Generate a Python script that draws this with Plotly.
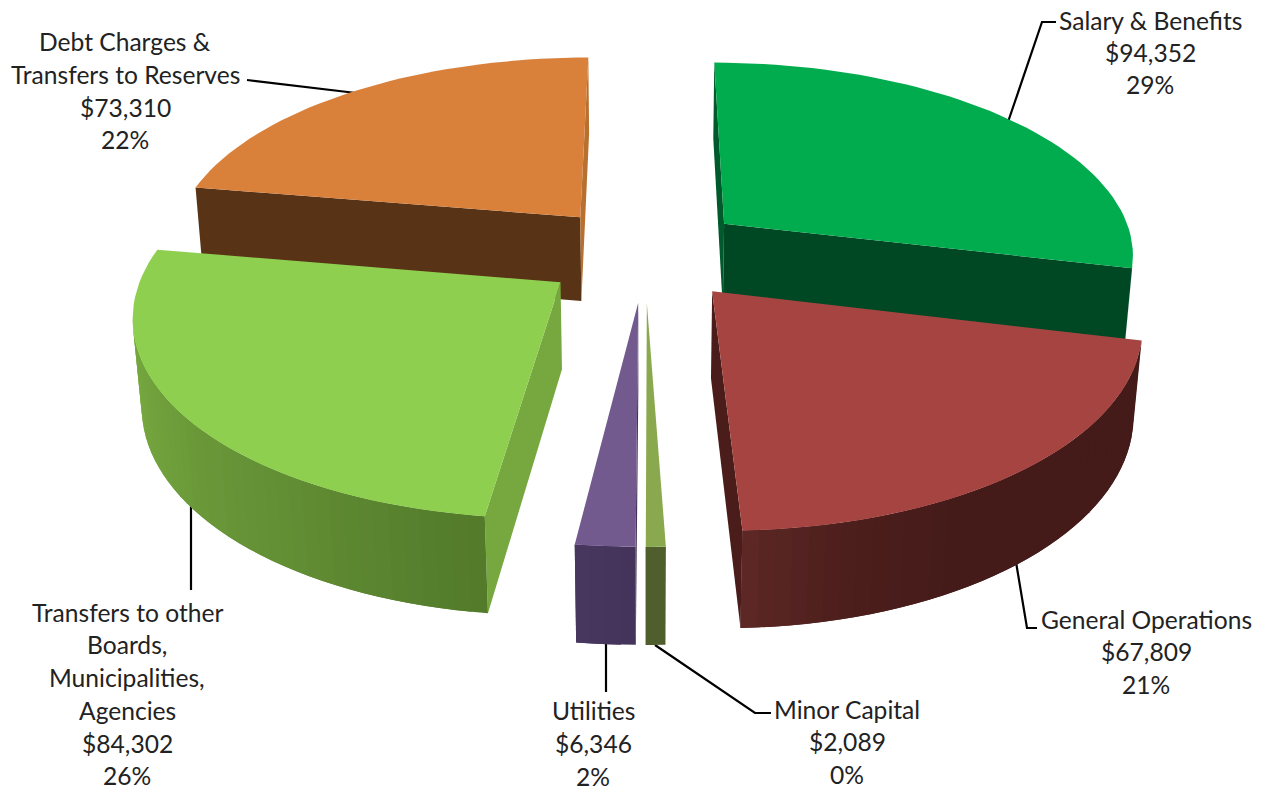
import math
import plotly.graph_objects as go

# Budget figures, in the order the slices run clockwise from twelve o'clock
categories = ["Salary & Benefits", "General Operations", "Minor Capital",
              "Utilities", "Transfers to other Boards, Municipalities, Agencies",
              "Debt Charges & Transfers to Reserves"]
amounts = [94352, 67809, 2089, 6346, 84302, 73310]
percent_labels = ["29%", "21%", "0%", "2%", "26%", "22%"]
amount_labels = ["$94,352", "$67,809", "$2,089", "$6,346", "$84,302", "$73,310"]
name_lines = [["Salary & Benefits"], ["General Operations"], ["Minor Capital"],
              ["Utilities"], ["Transfers to other", "Boards,", "Municipalities,", "Agencies"],
              ["Debt Charges &", "Transfers to Reserves"]]

# Slice colours: top face, the two flat cut faces, and the rim shading (angle in degrees, colour)
top_colors = ["#00AC4E", "#A64441", "#8AA84E", "#725A8E", "#8FCF50", "#D9803B"]
start_face_colors = ["#005A2B", "#4A1C1A", "#4F5E2C", "#43335A", "#77A83F", "#583316"]
end_face_colors = ["#004823", "#4A1C1A", "#4F5E2C", "#43335A", "#77A83F", "#B8702F"]
rim_ramps = [
    [(0, "#00592B"), (104, "#00592B")],
    [(104, "#441B19"), (150, "#441B19"), (166, "#4C1E1C"), (178, "#5E2825")],
    [(178, "#4F5E2C"), (181, "#4F5E2C")],
    [(180, "#43335A"), (188, "#48375F")],
    [(187, "#527A2A"), (215, "#638F35"), (245, "#72A23D"), (265, "#7AAE41"), (280, "#7AAE41")],
    [(279, "#6B3F1B"), (360, "#6B3F1B")],
]

# Perspective camera for the tilted disc
CX, CY = 645.0, 253.0
SCALE_X, SCALE_Y = 412.0, 192.5
FORESHORTEN = 0.145
EXPLODE = 0.25
DEPTH_DROP, DEPTH_CONVERGE = 87.0, 0.017
STEP_DEG = 2.0

FONT = "Lato"
FONT_SIZE = 24.6
TEXT_COLOR = "#222222"

# Label placement: centre x and the middle y of each line
label_x = [1150, 1146, 847, 593, 127, 125]
label_y = [[20, 52, 84], [619, 651, 684], [709, 741, 774], [710, 743, 776],
           [612, 644, 677, 710, 743, 775], [41, 74, 107, 139]]
leader_paths = [
    [(1008, 122), (1042, 22), (1056, 22)],
    [(1016, 562), (1027, 628), (1037, 628)],
    [(655, 645), (755, 713), (771, 713)],
    [(606, 640), (606, 692)],
    [(191, 500), (191, 590)],
    [(356, 93), (247, 80)],
]


def project(u, v, z=0.0):
    """Map a point on the disc (z=0 top face, z=1 bottom face) to page pixels."""
    w = 1 + FORESHORTEN * v
    x = SCALE_X * u / w
    y = -SCALE_Y * v / w
    if z:
        w2 = w + DEPTH_CONVERGE * z
        return CX + (x * w) / w2, CY + (y * w + DEPTH_DROP * z) / w2
    return CX + x, CY + y


def ramp_color(ramp, deg):
    if deg <= ramp[0][0]:
        return ramp[0][1]
    for (a0, c0), (a1, c1) in zip(ramp, ramp[1:]):
        if deg <= a1:
            t = (deg - a0) / (a1 - a0)
            rgb0 = [int(c0[i:i + 2], 16) for i in (1, 3, 5)]
            rgb1 = [int(c1[i:i + 2], 16) for i in (1, 3, 5)]
            return "#%02X%02X%02X" % tuple(round(p + (q - p) * t) for p, q in zip(rgb0, rgb1))
    return ramp[-1][1]


def signed_area(points):
    return sum(x0 * y1 - x1 * y0 for (x0, y0), (x1, y1) in zip(points, points[1:] + points[:1])) / 2


def polygon(points, color, name):
    xs = [p[0] for p in points] + [points[0][0]]
    ys = [p[1] for p in points] + [points[0][1]]
    return go.Scatter(x=xs, y=ys, mode="lines", fill="toself", fillcolor=color,
                      line=dict(color=color, width=0), name=name,
                      hoverinfo="name", showlegend=False)


def prism_side(pts):
    return [project(u, v, 0) for u, v in pts] + [project(u, v, 1) for u, v in reversed(pts)]


fig = go.Figure()

# Leader lines sit beneath the slices so they stop at the slice edges
for path in leader_paths:
    fig.add_trace(go.Scatter(x=[p[0] for p in path], y=[p[1] for p in path], mode="lines",
                             line=dict(color="#000000", width=2.2),
                             hoverinfo="skip", showlegend=False))

# Slice angle ranges come straight from the amounts
total = sum(amounts)
spans = []
running = 0.0
for value in amounts:
    start = running / total * 360
    running += value
    spans.append((start, running / total * 360))


def slice_traces(i):
    a0, a1 = spans[i]
    mid = math.radians((a0 + a1) / 2)
    ou, ov = EXPLODE * math.sin(mid), EXPLODE * math.cos(mid)
    n = max(2, int((a1 - a0) / STEP_DEG) + 1)
    degs = [a0 + (a1 - a0) * k / n for k in range(n + 1)]
    rim = [(ou + math.sin(math.radians(d)), ov + math.cos(math.radians(d))) for d in degs]
    traces = []

    def flat_face(pts, color):
        quad = prism_side(pts)
        # keep only faces turned toward the viewer
        if signed_area(quad) < 0:
            traces.append(polygon(quad, color, categories[i]))

    flat_face([(ou, ov), rim[0]], start_face_colors[i])
    flat_face([rim[-1], (ou, ov)], end_face_colors[i])
    # Each rim band runs on under the next one, which keeps the shading free of seams
    for k in range(n):
        if signed_area(prism_side([rim[k], rim[k + 1]])) < 0:
            band = prism_side(rim[k:k + 3])
            traces.append(polygon(band, ramp_color(rim_ramps[i], (degs[k] + degs[k + 1]) / 2),
                                  categories[i]))
    top = [project(ou, ov)] + [project(u, v) for u, v in rim]
    traces.append(polygon(top, top_colors[i], categories[i]))
    return traces


# Painted back to front
for i in [5, 0, 4, 1, 3, 2]:
    for trace in slice_traces(i):
        fig.add_trace(trace)

annotations = []
for i in range(len(categories)):
    lines = name_lines[i] + [amount_labels[i], percent_labels[i]]
    for text, y in zip(lines, label_y[i]):
        annotations.append(dict(x=label_x[i], y=y, xref="x", yref="y", text=text, showarrow=False,
                                xanchor="center", yanchor="middle",
                                font=dict(family=FONT, size=FONT_SIZE, color=TEXT_COLOR)))

fig.update_layout(
    width=1268, height=792, autosize=False,
    margin=dict(l=0, r=0, t=0, b=0),
    paper_bgcolor="#FFFFFF", plot_bgcolor="#FFFFFF",
    xaxis=dict(range=[0, 1268], visible=False, fixedrange=True),
    yaxis=dict(range=[792, 0], visible=False, fixedrange=True),
    annotations=annotations,
    showlegend=False,
)

fig.write_html("out.html", config=dict(displayModeBar=False))
